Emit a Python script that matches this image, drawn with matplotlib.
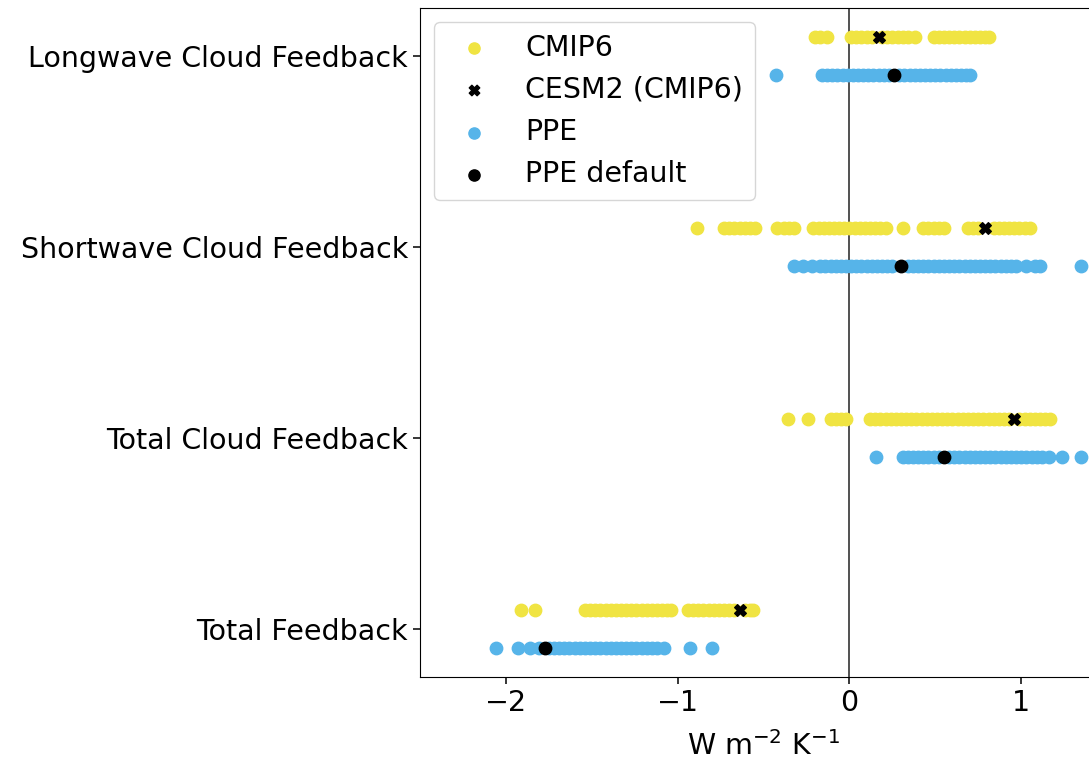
import numpy as np
import matplotlib
matplotlib.use("Agg")
import matplotlib.pyplot as plt

# categories, bottom to top
categorias = ["Total Feedback", "Total Cloud Feedback",
              "Shortwave Cloud Feedback", "Longwave Cloud Feedback"]

# CMIP6 ensemble (W m-2 K-1)
cmip6_total = [-1.91, -1.83, -1.54, -1.51, -1.48, -1.45, -1.42, -1.39, -1.36, -1.33,
               -1.30, -1.27, -1.24, -1.21, -1.18, -1.15, -1.12, -1.09, -1.06, -1.04,
               -0.94, -0.91, -0.88, -0.85, -0.82, -0.79, -0.76, -0.73, -0.70, -0.67,
               -0.61, -0.58, -0.56]
cmip6_total_cloud = [-0.36, -0.24, -0.11, -0.08, -0.05, -0.02, 0.12, 0.15, 0.18, 0.21,
                     0.24, 0.27, 0.30, 0.33, 0.36, 0.39, 0.42, 0.45, 0.48, 0.51, 0.54,
                     0.57, 0.60, 0.63, 0.66, 0.69, 0.72, 0.75, 0.78, 0.81, 0.84, 0.87,
                     0.90, 0.93, 0.99, 1.02, 1.05, 1.08, 1.11, 1.14, 1.17]
cmip6_sw = [-0.89, -0.73, -0.70, -0.67, -0.64, -0.61, -0.58, -0.55, -0.42, -0.38, -0.35,
            -0.32, -0.21, -0.18, -0.15, -0.12, -0.09, -0.06, -0.03, 0.00, 0.03, 0.06,
            0.09, 0.12, 0.15, 0.18, 0.21, 0.31, 0.43, 0.46, 0.49, 0.52, 0.55, 0.69, 0.72,
            0.75, 0.84, 0.87, 0.90, 0.93, 0.96, 0.99, 1.02, 1.05]
cmip6_lw = [-0.20, -0.17, -0.13, 0.01, 0.04, 0.07, 0.10, 0.13, 0.19, 0.22, 0.25, 0.28,
            0.31, 0.34, 0.38, 0.49, 0.52, 0.55, 0.58, 0.61, 0.64, 0.67, 0.70, 0.73,
            0.76, 0.79, 0.81]

# CESM2 in CMIP6
cesm2 = [-0.64, 0.96, 0.79, 0.17]

# perturbed parameter ensemble
ppe_total = [-2.06, -1.93, -1.86, -1.81, -1.75, -1.72, -1.69, -1.66, -1.63, -1.60,
             -1.57, -1.54, -1.51, -1.48, -1.45, -1.42, -1.39, -1.36, -1.33, -1.30,
             -1.27, -1.24, -1.21, -1.18, -1.15, -1.12, -1.08, -0.93, -0.80]
ppe_total_cloud = [0.155, 0.31, 0.34, 0.37, 0.40, 0.43, 0.46, 0.49, 0.52, 0.58, 0.61,
                   0.64, 0.67, 0.70, 0.73, 0.76, 0.79, 0.82, 0.85, 0.88, 0.91, 0.94,
                   0.97, 1.00, 1.03, 1.06, 1.09, 1.12, 1.16, 1.24, 1.35]
ppe_sw = [-0.32, -0.27, -0.22, -0.17, -0.14, -0.11, -0.08, -0.05, -0.02, 0.01, 0.04,
          0.07, 0.10, 0.13, 0.16, 0.19, 0.22, 0.25, 0.34, 0.37, 0.40, 0.43, 0.46,
          0.49, 0.52, 0.55, 0.58, 0.61, 0.64, 0.67, 0.70, 0.73, 0.76, 0.79, 0.82, 0.85,
          0.88, 0.91, 0.94, 0.97, 1.03, 1.08, 1.11, 1.35]
ppe_lw = [-0.43, -0.16, -0.13, -0.10, -0.07, -0.04, -0.01, 0.02, 0.05, 0.08, 0.11,
          0.14, 0.17, 0.20, 0.23, 0.29, 0.32, 0.35, 0.38, 0.41, 0.44, 0.47, 0.50, 0.53,
          0.56, 0.59, 0.62, 0.65, 0.68, 0.70]

# PPE default member
ppe_default = [-1.77, 0.55, 0.30, 0.26]

AMARILLO = "#F0E442"
AZUL = "#56B4E9"

cmip6 = [cmip6_total, cmip6_total_cloud, cmip6_sw, cmip6_lw]
ppe = [ppe_total, ppe_total_cloud, ppe_sw, ppe_lw]

plt.rcParams["font.size"] = 20.5

fig = plt.figure(figsize=(10.89, 7.63), dpi=100)
ax = fig.add_axes([0.3857, 0.1127, 0.6309, 0.8768])

desp = 0.1
for i in range(len(categorias)):
    ax.scatter(cmip6[i], np.full(len(cmip6[i]), i + desp), s=80, color=AMARILLO,
               label="CMIP6" if i == 0 else None, zorder=2)
    ax.scatter([cesm2[i]], [i + desp], s=70, marker="X", color="black",
               label="CESM2 (CMIP6)" if i == 0 else None, zorder=3)
    ax.scatter(ppe[i], np.full(len(ppe[i]), i - desp), s=80, color=AZUL,
               label="PPE" if i == 0 else None, zorder=2)
    ax.scatter([ppe_default[i]], [i - desp], s=80, color="black",
               label="PPE default" if i == 0 else None, zorder=3)

ax.axvline(0, color="#333333", linewidth=1.2, zorder=1)
ax.set_xlim(-2.5, 1.5)
ax.set_ylim(-0.25, 3.25)
ax.set_yticks(range(len(categorias)))
ax.set_yticklabels(categorias)
ax.set_xticks([-2, -1, 0, 1])
ax.tick_params(length=5, width=1.1)
ax.set_xlabel(r"W m$^{-2}$ K$^{-1}$", labelpad=10)
ax.legend(loc="upper left", markerscale=0.9)

plt.savefig("out.png", dpi=100)
